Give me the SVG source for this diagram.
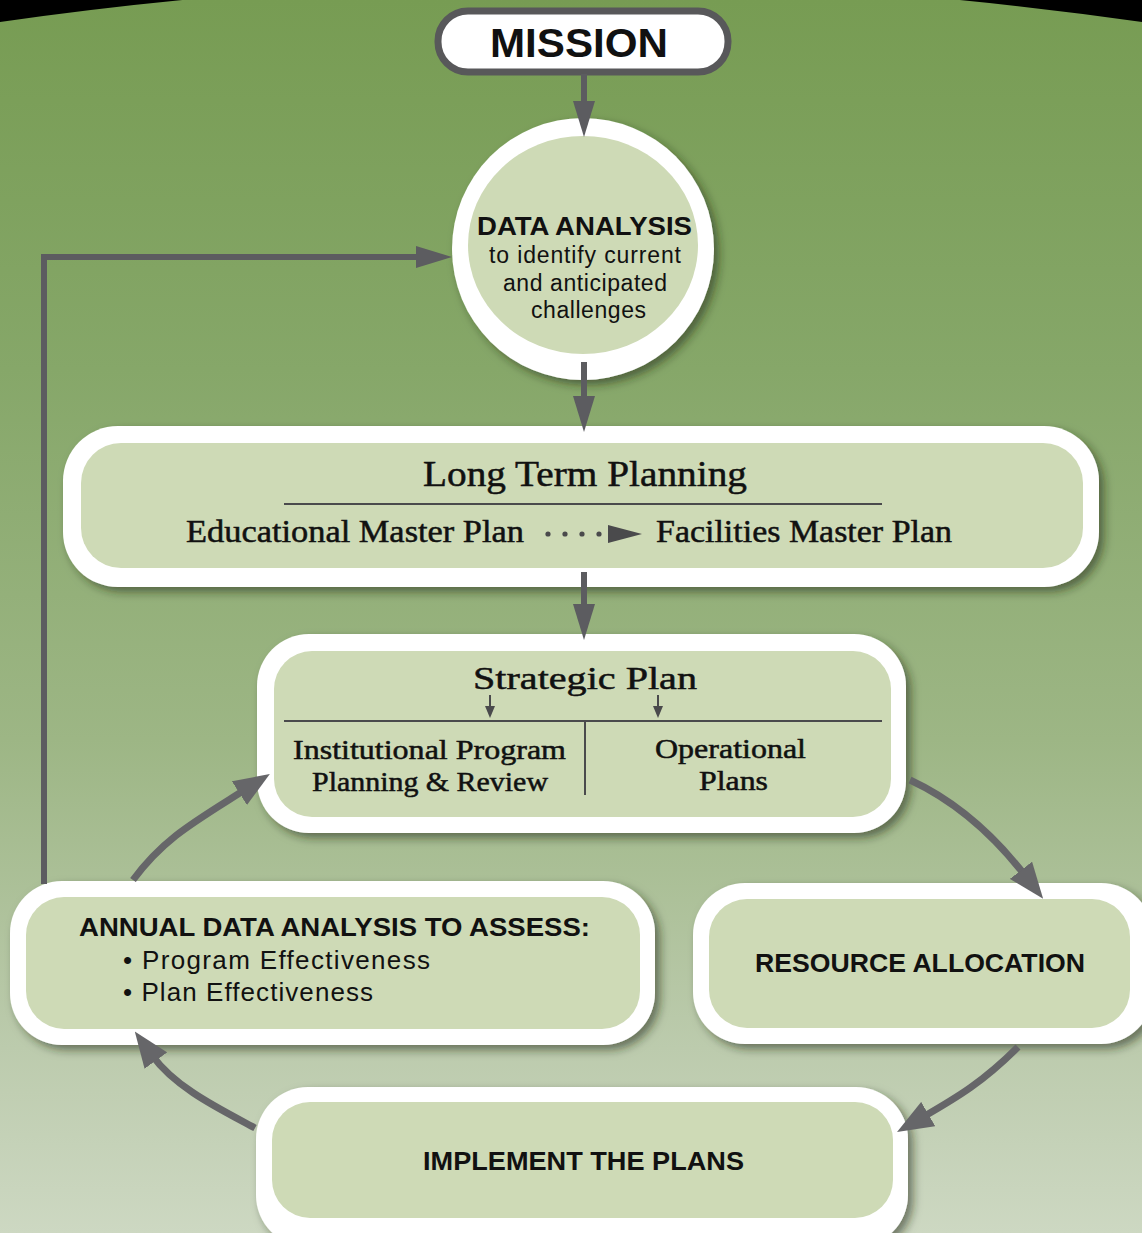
<svg xmlns="http://www.w3.org/2000/svg" width="1142" height="1233" viewBox="0 0 1142 1233">
<defs>
<linearGradient id="bg" x1="0" y1="0" x2="0" y2="1">
<stop offset="0" stop-color="#779c53"/>
<stop offset="0.3" stop-color="#86a769"/>
<stop offset="0.6" stop-color="#9db685"/>
<stop offset="0.85" stop-color="#bccbad"/>
<stop offset="1" stop-color="#cdd8c2"/>
</linearGradient>
<filter id="sh" x="-10%" y="-10%" width="125%" height="130%">
<feDropShadow dx="5" dy="5" stdDeviation="5" flood-color="#1f2a14" flood-opacity="0.55"/>
</filter>
<marker id="ah" viewBox="0 0 36 22" refX="6" refY="11" markerWidth="36" markerHeight="22" markerUnits="userSpaceOnUse" orient="auto">
<path d="M0,0 L36,11 L0,22 Z" fill="#5c5c60"/>
</marker>
<marker id="ahc" viewBox="0 0 36 28" refX="6" refY="14" markerWidth="36" markerHeight="28" markerUnits="userSpaceOnUse" orient="auto">
<path d="M0,0 L36,14 L0,28 Z" fill="#666669"/>
</marker>
<marker id="ahs" viewBox="0 0 12 10" refX="2" refY="5" markerWidth="12" markerHeight="10" markerUnits="userSpaceOnUse" orient="auto">
<path d="M0,0 L12,5 L0,10 Z" fill="#4a4a4c"/>
</marker>
</defs>
<style>
.outer{fill:#ffffff;filter:url(#sh)}
.inner{fill:#cedab6}
.sans{font-family:"Liberation Sans",Arial,sans-serif;fill:#111}
.b{font-weight:bold}
.serif{font-family:"Liberation Serif","Times New Roman",serif;fill:#111;stroke:#111;stroke-width:0.5}
.rule{stroke:#4a4a4c;stroke-width:2}
.conn{fill:none;stroke:#5c5c60;stroke-width:6}
.curve{fill:none;stroke:#666669;stroke-width:7}
</style>
<rect x="0" y="0" width="1142" height="1233" fill="url(#bg)"/>
<path d="M0,0 L0,22 Q571,-60 1142,22 L1142,0 Z" fill="#000"/>

<g id="mission">
<rect x="438" y="11" width="290" height="61" rx="30" fill="#fff" stroke="#58585a" stroke-width="7"/>
<text class="sans b" x="490" y="57" font-size="40" textLength="178" lengthAdjust="spacingAndGlyphs">MISSION</text>
</g>

<g id="data-analysis">
<circle cx="583" cy="249" r="131" class="outer"/>
<ellipse cx="583" cy="245" rx="115" ry="109" class="inner"/>
<text class="sans b" x="477" y="235" font-size="26" textLength="215" lengthAdjust="spacingAndGlyphs">DATA ANALYSIS</text>
<text class="sans" x="489" y="263" font-size="23" textLength="192" lengthAdjust="spacing">to identify current</text>
<text class="sans" x="503" y="291" font-size="23" textLength="164" lengthAdjust="spacing">and anticipated</text>
<text class="sans" x="531" y="318" font-size="23" textLength="115" lengthAdjust="spacing">challenges</text>
</g>

<g id="long-term-planning">
<rect x="63" y="426" width="1036" height="161" rx="55" class="outer"/>
<rect x="81" y="443" width="1002" height="125" rx="40" class="inner"/>
<text class="serif" x="423" y="486" font-size="36" textLength="324" lengthAdjust="spacingAndGlyphs">Long Term Planning</text>
<line class="rule" x1="284" y1="504" x2="882" y2="504"/>
<text class="serif" x="186" y="542" font-size="31" textLength="338" lengthAdjust="spacingAndGlyphs">Educational Master Plan</text>
<g fill="#4a4a4c">
<circle cx="548" cy="534" r="2.6"/>
<circle cx="565" cy="534" r="2.6"/>
<circle cx="582" cy="534" r="2.6"/>
<circle cx="599" cy="534" r="2.6"/>
<path d="M608,525 L642,534 L608,543 Z"/>
</g>
<text class="serif" x="656" y="542" font-size="31" textLength="296" lengthAdjust="spacingAndGlyphs">Facilities Master Plan</text>
</g>

<g id="strategic-plan">
<rect x="257" y="634" width="649" height="199" rx="52" class="outer"/>
<rect x="274" y="651" width="617" height="166" rx="38" class="inner"/>
<text class="serif" x="473" y="689" font-size="32" textLength="224" lengthAdjust="spacingAndGlyphs">Strategic Plan</text>
<line class="rule" x1="284" y1="721" x2="882" y2="721"/>
<line class="rule" x1="585" y1="721" x2="585" y2="795"/>
<line stroke="#4a4a4c" stroke-width="2" x1="490" y1="695" x2="490" y2="708" marker-end="url(#ahs)"/>
<line stroke="#4a4a4c" stroke-width="2" x1="658" y1="695" x2="658" y2="708" marker-end="url(#ahs)"/>
<text class="serif" x="293" y="759" font-size="27" textLength="273" lengthAdjust="spacingAndGlyphs">Institutional Program</text>
<text class="serif" x="312" y="791" font-size="27" textLength="236" lengthAdjust="spacingAndGlyphs">Planning &amp; Review</text>
<text class="serif" x="655" y="758" font-size="27" textLength="151" lengthAdjust="spacingAndGlyphs">Operational</text>
<text class="serif" x="699" y="790" font-size="27" textLength="69" lengthAdjust="spacingAndGlyphs">Plans</text>
</g>

<g id="annual-data-analysis">
<rect x="10" y="881" width="645" height="164" rx="52" class="outer"/>
<rect x="26" y="897" width="614" height="132" rx="38" class="inner"/>
<text class="sans b" x="79" y="936" font-size="25" textLength="511" lengthAdjust="spacingAndGlyphs">ANNUAL DATA ANALYSIS TO ASSESS:</text>
<text class="sans" x="123" y="969" font-size="26" textLength="307" lengthAdjust="spacing">• Program Effectiveness</text>
<text class="sans" x="123" y="1001" font-size="26" textLength="250" lengthAdjust="spacing">• Plan Effectiveness</text>
</g>

<g id="resource-allocation">
<rect x="693" y="883" width="460" height="161" rx="52" class="outer"/>
<rect x="709" y="899" width="421" height="129" rx="38" class="inner"/>
<text class="sans b" x="755" y="972" font-size="25" textLength="330" lengthAdjust="spacingAndGlyphs">RESOURCE ALLOCATION</text>
</g>

<g id="implement-the-plans">
<rect x="256" y="1087" width="652" height="160" rx="52" class="outer"/>
<rect x="272" y="1102" width="621" height="116" rx="38" class="inner"/>
<text class="sans b" x="423" y="1170" font-size="26" textLength="321" lengthAdjust="spacingAndGlyphs">IMPLEMENT THE PLANS</text>
</g>

<g id="connectors">
<line class="conn" x1="584" y1="74" x2="584" y2="107" marker-end="url(#ah)"/>
<line class="conn" x1="584" y1="362" x2="584" y2="402" marker-end="url(#ah)"/>
<line class="conn" x1="584" y1="572" x2="584" y2="610" marker-end="url(#ah)"/>
<path class="conn" d="M44,884 V257 H422" marker-end="url(#ah)"/>
<path class="curve" d="M133,880 C163.5,838.5 194,822 244.5,790" marker-end="url(#ahc)"/>
<path class="curve" d="M910,780 C955.5,801 994,835.6 1024.7,875" marker-end="url(#ahc)"/>
<path class="curve" d="M1018,1047 C983,1082 957.6,1097 923,1117" marker-end="url(#ahc)"/>
<path class="curve" d="M255,1128 C220,1109 175.8,1088 152.4,1055.7" marker-end="url(#ahc)"/>
</g>
</svg>
